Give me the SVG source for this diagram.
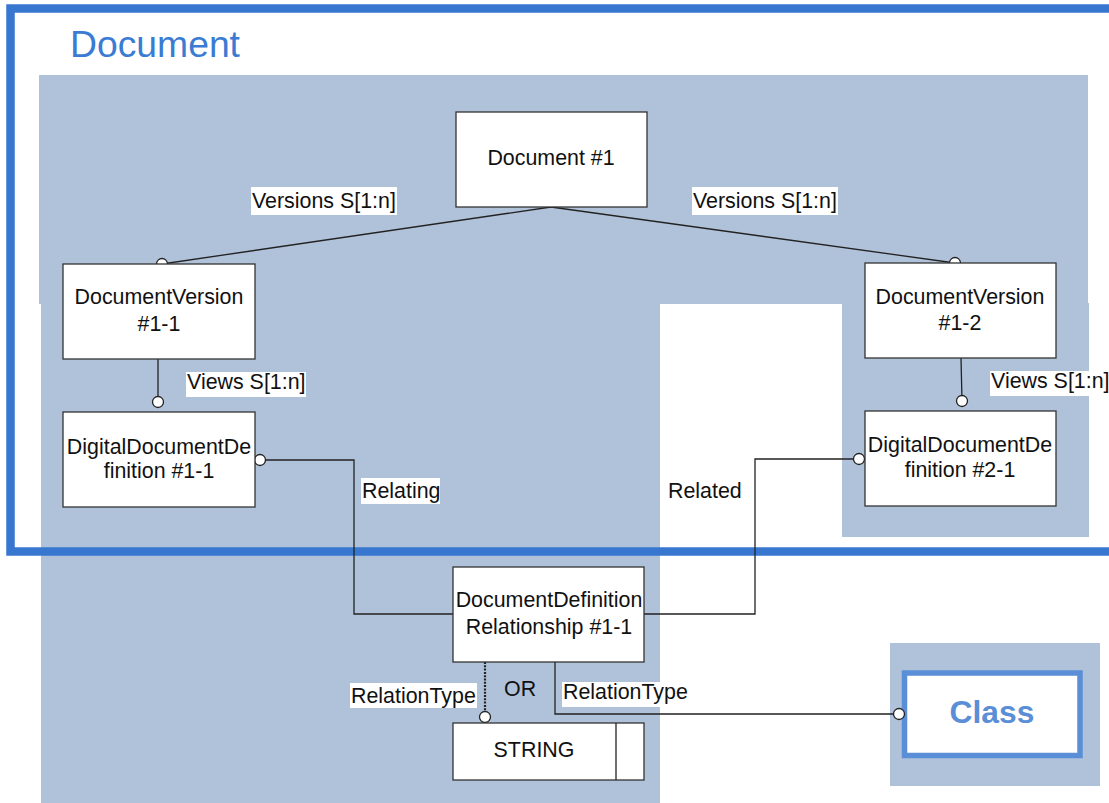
<svg xmlns="http://www.w3.org/2000/svg" width="1109" height="803" viewBox="0 0 1109 803">
<style>
.bg{fill:#b0c2da;stroke:none}
.box{fill:#fff;stroke:#333;stroke-width:1.3}
.t{font-family:"Liberation Sans",Arial,sans-serif;font-size:21.4px;fill:#111}
.c{text-anchor:middle}
.lbl{fill:#fff;stroke:none}
.ln{fill:none;stroke:#222;stroke-width:1.3}
.dot{fill:#fff;stroke:#222;stroke-width:1.3}
</style>
<rect width="1109" height="803" fill="#fff"/>
<g id="background">
<rect class="bg" x="39" y="75" width="1049" height="229"/>
<rect class="bg" x="41" y="303" width="619" height="500"/>
<rect class="bg" x="842" y="303" width="247" height="234"/>
<rect class="bg" x="890" y="643" width="210" height="143"/>
</g>
<g id="frame">
<rect x="10.5" y="8.5" width="1120" height="543" fill="none" stroke="#3777cf" stroke-width="8.5"/>
<text x="70" y="57" font-family="Liberation Sans,Arial,sans-serif" font-size="37.3" fill="#3a7bd3">Document</text>
</g>
<g id="connectors">
<polyline class="ln" points="162,264 551,207 955,263"/>
<line class="ln" x1="158" y1="359" x2="158" y2="402"/>
<line class="ln" x1="961" y1="358" x2="962" y2="401"/>
<polyline class="ln" points="260,460 354,460 354,614 454,614"/>
<polyline class="ln" points="859,459 755,459 755,614 644,614"/>
<line x1="485" y1="662" x2="485" y2="712" stroke="#222" stroke-width="2.2" stroke-dasharray="2,1.3"/>
<polyline class="ln" points="555,662 555,714 899,714"/>
<rect class="lbl" x="251" y="187" width="146" height="28"/>
<text class="t" x="252" y="208">Versions S[1:n]</text>
<rect class="lbl" x="692" y="187" width="146" height="28"/>
<text class="t" x="693" y="208">Versions S[1:n]</text>
<rect class="lbl" x="186" y="372" width="120" height="25"/>
<text class="t" x="187" y="389">Views S[1:n]</text>
<rect class="lbl" x="990" y="371" width="119" height="25"/>
<text class="t" x="991" y="388">Views S[1:n]</text>
<rect class="lbl" x="361" y="478" width="79" height="26"/>
<text class="t" x="362" y="498">Relating</text>
<text class="t" x="668" y="498">Related</text>
<rect class="lbl" x="350" y="683" width="127" height="25"/>
<text class="t" x="351" y="703">RelationType</text>
<text class="t" x="504" y="696">OR</text>
<rect class="lbl" x="562" y="682" width="128" height="25"/>
<text class="t" x="563" y="699">RelationType</text>
<circle class="dot" cx="162" cy="264" r="5.5"/>
<circle class="dot" cx="955" cy="263" r="5.5"/>
<circle class="dot" cx="158" cy="402" r="5.5"/>
<circle class="dot" cx="962" cy="401" r="5.5"/>
<circle class="dot" cx="260" cy="460" r="5.5"/>
<circle class="dot" cx="859" cy="459" r="5.5"/>
<circle class="dot" cx="485" cy="717" r="5.5"/>
</g>
<g id="document1">
<rect class="box" x="456" y="112" width="191" height="95"/>
<text class="t c" x="551" y="165">Document #1</text>
</g>
<g id="docversion11">
<rect class="box" x="63" y="264" width="192" height="95"/>
<text class="t c" x="159" y="304">DocumentVersion</text>
<text class="t c" x="159" y="331">#1-1</text>
</g>
<g id="docversion12">
<rect class="box" x="865" y="263" width="191" height="95"/>
<text class="t c" x="960" y="304">DocumentVersion</text>
<text class="t c" x="960" y="330">#1-2</text>
</g>
<g id="ddd11">
<rect class="box" x="63" y="412" width="192" height="95"/>
<text class="t c" x="159" y="454">DigitalDocumentDe</text>
<text class="t c" x="159" y="478">finition #1-1</text>
</g>
<g id="ddd21">
<rect class="box" x="865" y="411" width="191" height="95"/>
<text class="t c" x="960" y="452">DigitalDocumentDe</text>
<text class="t c" x="960" y="477">finition #2-1</text>
</g>
<g id="ddr11">
<rect class="box" x="453" y="567" width="191" height="95"/>
<text class="t c" x="549" y="607">DocumentDefinition</text>
<text class="t c" x="549" y="634">Relationship #1-1</text>
</g>
<g id="string">
<rect class="box" x="453" y="723" width="191" height="57"/>
<line class="ln" x1="616" y1="723" x2="616" y2="780"/>
<text class="t c" x="534" y="757">STRING</text>
</g>
<g id="class">
<rect x="904.5" y="673" width="175.5" height="82.5" fill="#fff" stroke="#5a8ed6" stroke-width="5.5"/>
<text x="992" y="723" text-anchor="middle" font-family="Liberation Sans,Arial,sans-serif" font-size="31.8" font-weight="bold" fill="#5a8ed6">Class</text>
<circle class="dot" cx="899" cy="714" r="5.5"/>
</g>
</svg>
